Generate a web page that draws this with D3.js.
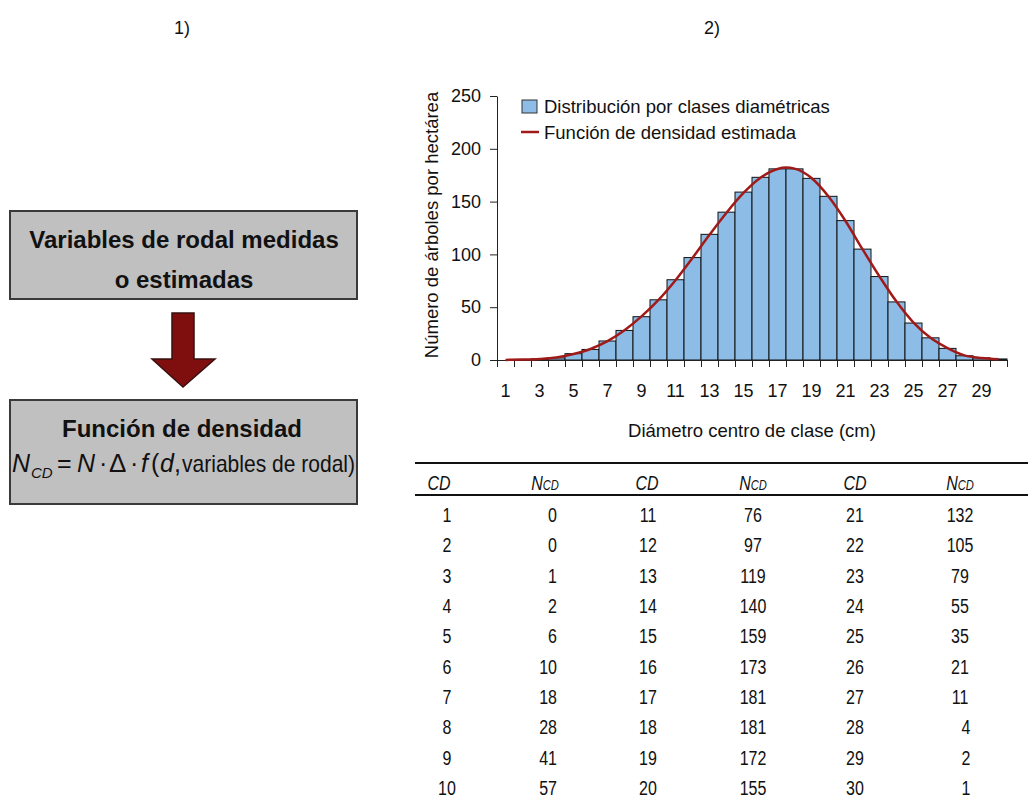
<!DOCTYPE html>
<html>
<head>
<meta charset="utf-8">
<script src="https://cdn.jsdelivr.net/npm/d3@7"></script>
<style>
  html, body { margin: 0; padding: 0; background: #fff; }
  svg { display: block; font-family: "Liberation Sans", Arial, sans-serif; }
</style>
</head>
<body>
<svg id="chart" width="1028" height="798"></svg>
<script>
// ---------- data ----------
const classes = [1,2,3,4,5,6,7,8,9,10,11,12,13,14,15,16,17,18,19,20,21,22,23,24,25,26,27,28,29,30];
const ncd = [0,0,1,2,6,10,18,28,41,57,76,97,119,140,159,173,181,181,172,155,132,105,79,55,35,21,11,4,2,1];
// estimated density curve, read at class centres
const curveX = [1,2,3,4,5,6,7,8,9,10,11,12,13,14,15,16,17,17.5,18,19,20,21,22,23,24,25,26,27,28,29,30];
const curveY = [0.1,0.4,1.0,2.4,5.6,10.4,17.8,28.2,41.3,56.9,75.6,96.7,118.6,139.5,158.2,172.6,180.9,182.2,181.2,172.3,154.8,131.6,104.9,79.1,55.3,35.4,21.0,11.3,4.4,1.9,0.8];
const yTicks = [0,50,100,150,200,250];
const xTickLabels = [1,3,5,7,9,11,13,15,17,19,21,23,25,27,29];
const legendLabels = ["Distribución por clases diamétricas", "Función de densidad estimada"];
const panelTitles = ["1)", "2)"];
const yTitle = "Número de árboles por hectárea";
const xTitle = "Diámetro centro de clase (cm)";
const box1Lines = ["Variables de rodal medidas", "o estimadas"];
const box2Title = "Función de densidad";

const BLUE = "#8DBDE6", RED = "#A01A1A";
const svg = d3.select("#chart");

// ---------- panel titles ----------
svg.selectAll("text.ptitle").data(panelTitles).enter().append("text")
  .attr("class","ptitle")
  .attr("x",(d,i)=> i===0 ? 182 : 712).attr("y",34)
  .attr("text-anchor","middle").attr("font-size",18).attr("fill","#111").text(d=>d);

// ---------- left diagram ----------
const diag = svg.append("g");
diag.append("rect").attr("x",10).attr("y",211).attr("width",347).attr("height",88)
  .attr("fill","#C0C0C0").attr("stroke","#3a3a3a").attr("stroke-width",2);
diag.selectAll("text.b1").data(box1Lines).enter().append("text").attr("class","b1")
  .attr("x",184).attr("y",(d,i)=>248 + i*40)
  .attr("text-anchor","middle").attr("font-size",24).attr("font-weight","bold").attr("fill","#111").text(d=>d);

// arrow
diag.append("path")
  .attr("d","M172,313 L194,313 L194,359 L215,359 L183,387 L152,359 L172,359 Z")
  .attr("fill","#7F0E0E").attr("stroke","#3a1010").attr("stroke-width",1.5);

diag.append("rect").attr("x",10).attr("y",400).attr("width",347).attr("height",104)
  .attr("fill","#C0C0C0").attr("stroke","#3a3a3a").attr("stroke-width",2);
diag.append("text").attr("x",182).attr("y",437).attr("text-anchor","middle")
  .attr("font-size",24).attr("font-weight","bold").attr("fill","#111").text(box2Title);

// formula pieces
const fpieces = [
  {t:"N", x:12, it:true, fs:25},
  {t:"CD", x:31, it:true, fs:15, dy:6},
  {t:"=", x:57, it:false, fs:25},
  {t:"N", x:77, it:true, fs:25},
  {t:"·", x:99, it:false, fs:25},
  {t:"Δ", x:109, it:false, fs:26},
  {t:"·", x:130, it:false, fs:25},
  {t:"f", x:141, it:true, fs:25},
  {t:"(", x:151, it:false, fs:25},
  {t:"d", x:160, it:true, fs:25},
  {t:",", x:174, it:false, fs:25},
  {t:"variables de rodal)", x:182, it:false, fs:24, len:173}
];
fpieces.forEach(p=>{
  const t = diag.append("text").attr("x",p.x).attr("y",472 + (p.dy||0))
    .attr("font-size",p.fs).attr("font-style",p.it?"italic":"normal").attr("fill","#111").text(p.t);
  if (p.len) t.attr("textLength",p.len).attr("lengthAdjust","spacingAndGlyphs");
});

// ---------- histogram ----------
const x = d3.scaleBand().domain(classes).range([497,1007]).padding(0);
const xl = d3.scaleLinear().domain([0.5,30.5]).range([497,1007]);
const y = d3.scaleLinear().domain([0,250]).range([360,96]);

const plot = svg.append("g");
plot.selectAll("rect.bar").data(classes).enter().append("rect").attr("class","bar")
  .attr("x",d=>x(d)).attr("width",x.bandwidth())
  .attr("y",(d,i)=>y(ncd[i])).attr("height",(d,i)=>y(0)-y(ncd[i]))
  .attr("fill",BLUE).attr("stroke","#111").attr("stroke-width",1);

// y axis
const yAxis = plot.append("g").attr("transform","translate(497,0)")
  .call(d3.axisLeft(y).tickValues(yTicks).tickSize(7).tickSizeOuter(0).tickPadding(9));
yAxis.select(".domain").attr("stroke","#222");
yAxis.selectAll(".tick line").attr("stroke","#222");
yAxis.selectAll(".tick text").attr("font-size",18).attr("fill","#111").attr("font-family","Liberation Sans, Arial, sans-serif");

// x axis: ticks at class boundaries
const bounds = classes.map(c=>c-0.5).concat([30.5]);
const xAxis = plot.append("g").attr("transform","translate(0,360)")
  .call(d3.axisBottom(xl).tickValues(bounds).tickSize(7).tickSizeOuter(0).tickFormat(""));
xAxis.select(".domain").attr("stroke","#222");
xAxis.selectAll(".tick line").attr("stroke","#222");
// x labels at class centres
const xLab = plot.append("g").attr("transform","translate(0,360)")
  .call(d3.axisBottom(x).tickValues(xTickLabels).tickSize(0).tickPadding(24));
xLab.select(".domain").remove();
xLab.selectAll(".tick text").attr("font-size",18).attr("fill","#111").attr("font-family","Liberation Sans, Arial, sans-serif");

// density curve
const lx = d3.scaleLinear().domain([1,30]).range([x(1)+x.bandwidth()/2, x(30)+x.bandwidth()/2]);
const line = d3.line().x(d=>lx(d[0])).y(d=>y(d[1])).curve(d3.curveMonotoneX);
plot.append("path").datum(curveX.map((v,i)=>[v,curveY[i]]))
  .attr("d",line).attr("fill","none").attr("stroke",RED).attr("stroke-width",2.5);

// axis titles
plot.append("text").attr("transform","translate(438,225) rotate(-90)")
  .attr("text-anchor","middle").attr("font-size",18.5).attr("fill","#111").text(yTitle);
plot.append("text").attr("x",752).attr("y",437).attr("text-anchor","middle")
  .attr("font-size",18.5).attr("fill","#111").text(xTitle);

// legend
const lg = plot.append("g");
lg.append("rect").attr("x",522).attr("y",100).attr("width",15).attr("height",13)
  .attr("fill",BLUE).attr("stroke","#333").attr("stroke-width",1);
lg.append("line").attr("x1",521).attr("x2",539).attr("y1",132).attr("y2",132)
  .attr("stroke",RED).attr("stroke-width",2.5);
lg.selectAll("text").data(legendLabels).enter().append("text")
  .attr("x",544).attr("y",(d,i)=>113 + i*26).attr("font-size",18.5).attr("fill","#111").text(d=>d);

// ---------- table ----------
const tbl = svg.append("g");
tbl.append("line").attr("x1",415).attr("x2",1028).attr("y1",463).attr("y2",463).attr("stroke","#111").attr("stroke-width",2);
tbl.append("line").attr("x1",415).attr("x2",1028).attr("y1",495).attr("y2",495).attr("stroke","#111").attr("stroke-width",2);

const groupCD = [447, 648, 855];
const groupN = [552, 753, 960];
const hdrCD = [439, 647, 855];
const hdrN = [545, 753, 960];
const SX = 0.8;
function ntext(g, xx, yy, txt, size, italic, anchor){
  const gg = g.append("g").attr("transform",`translate(${xx},${yy}) scale(${SX},1)`);
  return gg.append("text").attr("x",0).attr("y",0).attr("text-anchor",anchor||"middle")
    .attr("font-size",size).attr("font-style",italic?"italic":"normal").attr("fill","#111").text(txt);
}
for (let gi=0; gi<3; gi++){
  ntext(tbl, hdrCD[gi], 490, "CD", 20, true);
  const h = tbl.append("g").attr("transform",`translate(${hdrN[gi]},490) scale(${SX},1)`)
    .append("text").attr("text-anchor","middle").attr("font-style","italic").attr("fill","#111");
  h.append("tspan").attr("font-size",20).text("N");
  h.append("tspan").attr("font-size",14).text("CD");
}
const rowY = d3.scaleLinear().domain([0,9]).range([522,795]);
classes.forEach((c,i)=>{
  const gi = Math.floor(i/10), ri = i%10;
  ntext(tbl, groupCD[gi], rowY(ri), String(c), 20, false);
  const v = ncd[i];
  const s = String(v);
  const shift = (gi>0 && s.length===1) ? 6 : 0;
  if (gi===0) ntext(tbl, 557, rowY(ri), s, 20, false, "end");
  else ntext(tbl, groupN[gi]+shift, rowY(ri), s, 20, false);
});
</script>
</body>
</html>
